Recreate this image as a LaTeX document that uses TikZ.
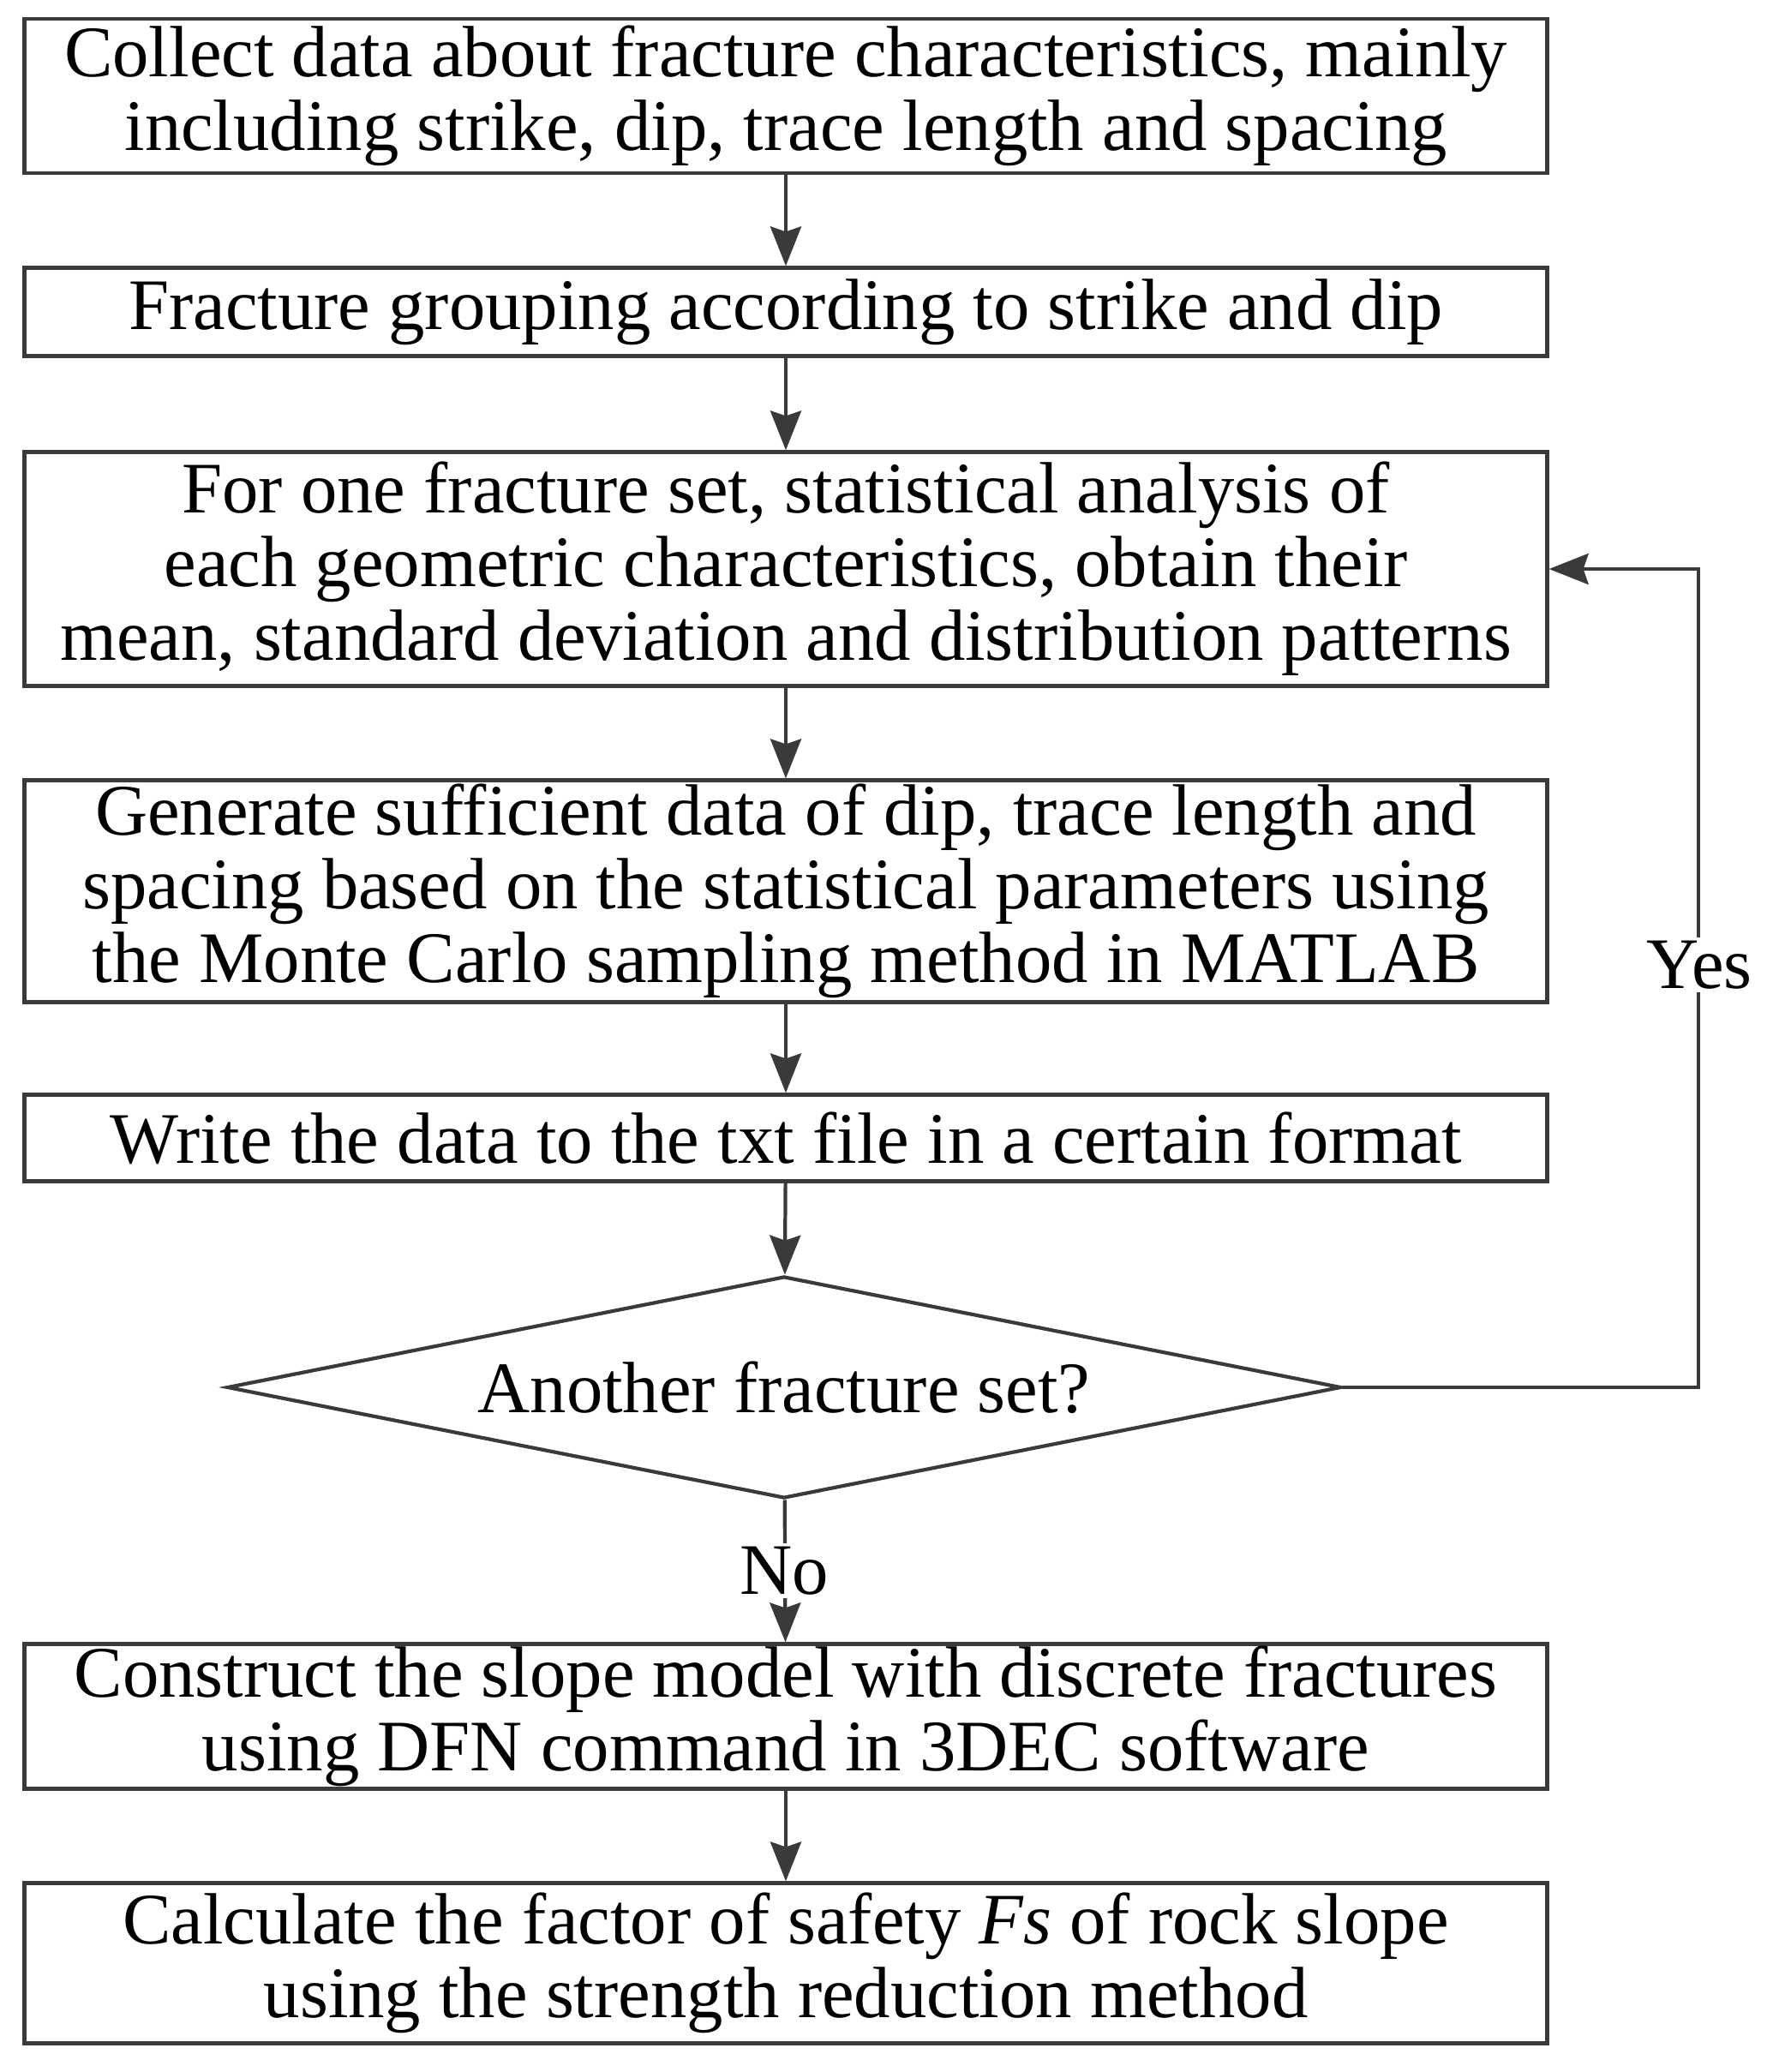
\documentclass[tikz,border=0pt]{standalone}
\usepackage{fontspec}
\setmainfont{Liberation Serif}
\usetikzlibrary{arrows.meta,shapes.geometric}
\definecolor{linegray}{HTML}{3A3A3A}
\tikzset{
  stepbox/.style={draw=linegray, line width=1.2pt, minimum width=17.77cm,
    inner sep=0pt, align=center, font=\fontsize{24.1pt}{24.5pt}\selectfont},
  decision/.style={diamond, draw=linegray, line width=1.2pt, aspect=5,
    minimum width=13cm, minimum height=2.59cm, inner sep=0pt,
    font=\fontsize{24.1pt}{24.5pt}\selectfont},
  flow/.style={draw=linegray, line width=1.2pt,
    -{Stealth[length=0.46cm, width=0.36cm, inset=0.06cm]}},
  tag/.style={fill=white, inner sep=1pt, font=\fontsize{24.1pt}{24.5pt}\selectfont}
}
\begin{document}
\begin{tikzpicture}
      \useasboundingbox (0,0) rectangle (20.69,-24.18);
      \node[stepbox, minimum height=1.80cm] (collect) at (9.17,-1.12)
        {Collect data about fracture characteristics, mainly\\including strike, dip, trace length and spacing};
      \node[stepbox, minimum height=1.03cm] (group) at (9.17,-3.64)
        {Fracture grouping according to strike and dip};
      \node[stepbox, minimum height=2.73cm] (stats) at (9.17,-6.64)
        {For one fracture set, statistical analysis of\\each geometric characteristics, obtain their\\mean, standard deviation and distribution patterns};
      \node[stepbox, minimum height=2.59cm] (sample) at (9.17,-10.40)
        {Generate sufficient data of dip, trace length and\\spacing based on the statistical parameters using\\the Monte Carlo sampling method in MATLAB};
      \node[stepbox, minimum height=1.01cm] (write) at (9.17,-13.28)
        {Write the data to the txt file in a certain format};
      \node[decision] (another) at (9.15,-16.19) {Another fracture set?};
      \node[stepbox, minimum height=1.69cm] (model) at (9.17,-20.03)
        {Construct the slope model with discrete fractures\\using DFN command in 3DEC software};
      \node[stepbox, minimum height=1.87cm] (safety) at (9.17,-22.91)
        {Calculate the factor of safety \textit{Fs} of rock slope\\using the strength reduction method};
      \coordinate (loop) at (19.82,-16.19);
      \begin{scope}[flow]
        \draw (collect) to (group);
        \draw (group) to (stats);
        \draw (stats) to (sample);
        \draw (sample) to (write);
        \draw (write) to (another);
        \draw (another) to (model);
        \draw (model) to (safety);
        \draw (another.east) -- (loop) |- (stats.east);
      \end{scope}
      \node[tag] (yes) at (19.83,-11.26) {Yes};
      \node[tag] (no) at (9.15,-18.33) {No};
    \end{tikzpicture}
\end{document}
